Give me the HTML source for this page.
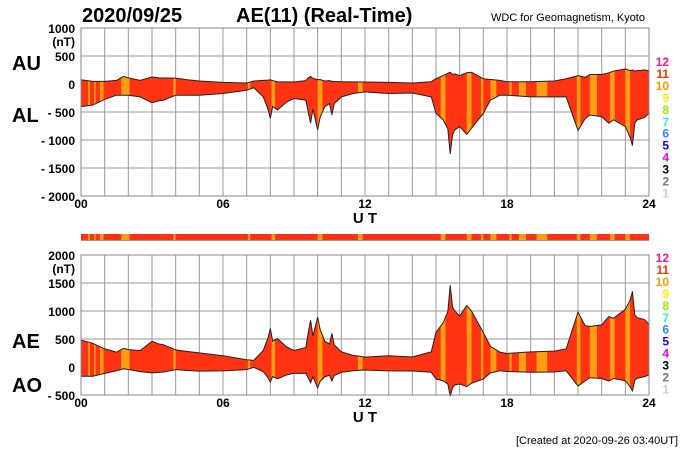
<!DOCTYPE html>
<html><head><meta charset="utf-8"><style>
body{margin:0;background:#fff;}
svg{display:block;font-family:"Liberation Sans",Arial,sans-serif;}
</style></head><body>
<svg id="c" width="700" height="450" viewBox="0 0 700 450">
<rect width="700" height="450" fill="#fff"/>
<text x="82" y="22" font-size="20" font-weight="bold">2020/09/25</text>
<text x="236" y="22" font-size="20" font-weight="bold">AE(11) (Real-Time)</text>
<text x="645" y="21" font-size="11" text-anchor="end">WDC for Geomagnetism, Kyoto</text>
<text x="12" y="70" font-size="20" font-weight="bold">AU</text>
<text x="12" y="122" font-size="20" font-weight="bold">AL</text>
<text x="12" y="348" font-size="20" font-weight="bold">AE</text>
<text x="12" y="392" font-size="20" font-weight="bold">AO</text>
<text x="678" y="444" font-size="11" text-anchor="end">[Created at 2020-09-26 03:40UT]</text>
<g id="top"></g><g id="bar"></g><g id="bot"></g>
</svg>
<script>
const hours=[0,0.5,1,1.5,1.8,2,2.5,3,3.3,3.5,4,4.5,5,6,7,7.3,7.7,7.9,8,8.1,8.3,8.7,9,9.5,9.6,9.7,9.8,10,10.1,10.3,10.5,10.6,10.7,11,11.5,12,13,14,14.8,15,15.3,15.5,15.6,15.7,15.8,16,16.3,16.5,17,17.3,17.7,18,19,20,20.5,21,21.3,21.5,22,22.3,22.5,23,23.2,23.3,23.4,23.5,23.8,24];
const au=[76,47,47,65,135,110,65,124,110,108,105,76,53,30,18,53,65,70,76,60,41,38,35,60,110,135,100,76,80,53,60,50,45,41,38,35,30,18,41,94,150,190,210,170,180,150,200,210,94,80,65,41,41,53,94,150,120,170,170,200,230,270,240,250,230,240,250,240];
const al=[-405,-376,-276,-200,-200,-200,-230,-335,-300,-288,-200,-200,-200,-170,-112,-65,-230,-450,-612,-400,-465,-318,-260,-288,-500,-700,-450,-818,-600,-405,-350,-550,-350,-230,-170,-141,-170,-160,-230,-523,-640,-800,-1250,-900,-818,-760,-900,-790,-523,-288,-200,-200,-230,-230,-230,-830,-620,-553,-582,-700,-640,-760,-950,-1100,-700,-640,-600,-523];
const bandStart=[0.3,0.55,0.8,1.7,3.9,7.05,8.05,10.0,11.7,15.2,16.3,16.9,17.3,18.1,18.5,19.25,20.95,21.5,22.35,23.0];
const bandEnd=[0.38,0.62,0.95,2.05,4.0,7.15,8.2,10.2,11.9,15.4,16.5,17.0,17.55,18.2,18.8,19.7,21.1,21.8,22.55,23.2];
const topTicks=[1000,500,0,-500,-1000,-1500,-2000];
const topTickLabels=["1000","500","0","- 500","- 1000","- 1500","- 2000"];
const botTicks=[2000,1500,1000,500,0,-500];
const botTickLabels=["2000","1500","1000","500","0","- 500"];
const xTicks=[0,6,12,18,24];
const xTickLabels=["00","06","12","18","24"];
const legendNums=["12","11","10","9","8","7","6","5","4","3","2","1"];
const legendCols=["#ff1493","#ff3300","#ff9900","#ffee00","#99ee00","#33eecc","#3388ff","#2200ee","#ee00ee","#000","#777","#ccc"];
const ae=hours.map((h,i)=>au[i]-al[i]);
const ao=hours.map((h,i)=>(au[i]+al[i])/2);
const NS="http://www.w3.org/2000/svg";
const X0=81,X1=649;
const x=h=>X0+(X1-X0)*h/24;
function mk(t,a,p){const e=document.createElementNS(NS,t);for(const k in a)e.setAttribute(k,a[k]);p.appendChild(e);return e;}
function panel(g,id,y0,vmax,vmin,ticks,labels,up,lo,lbOffset){
  const yT=y0,yB=y0+(vmax-vmin)/500*28;
  const y=v=>yT+(vmax-v)/(vmax-vmin)*(yB-yT);
  for(let h=0;h<=24;h++){const l=mk('line',{x1:x(h),x2:x(h),y1:yT,y2:yB,stroke:'#999','stroke-width':1},g);
    }
  ticks.forEach((v,i)=>{const l=mk('line',{x1:X0,x2:X1,y1:y(v),y2:y(v),stroke:'#999','stroke-width':1},g);
    
    const t=mk('text',{x:75,y:y(v)+5,'font-size':12,'font-weight':'bold','text-anchor':'end'},g);t.textContent=labels[i];
    
    if(i==0){const u=mk('text',{x:75,y:y(v)+18,'font-size':12,'font-weight':'bold','text-anchor':'end'},g);u.textContent='(nT)';
      }
  });
  let pts=hours.map((h,i)=>x(h)+','+y(up[i]));
  let pts2=hours.slice().reverse().map((h,j)=>{const i=hours.length-1-j;return x(h)+','+y(lo[i]);});
  const poly=pts.concat(pts2).join(' ');
  const cp=mk('clipPath',{id:'cp'+id},g);mk('polygon',{points:poly},cp);
  const area=mk('polygon',{points:poly,fill:'#ff3311'},g);
  
  const bg=mk('g',{'clip-path':'url(#cp'+id+')'},g);
  bandStart.forEach((s,i)=>{const r=mk('rect',{x:x(s),y:yT,width:x(bandEnd[i])-x(s),height:yB-yT,fill:'#ff9c11'},bg);
    });
  const l1=mk('polyline',{points:pts.join(' '),fill:'none',stroke:'#222','stroke-width':1},g);
  
  const l2=mk('polyline',{points:hours.map((h,i)=>x(h)+','+y(lo[i])).join(' '),fill:'none',stroke:'#222','stroke-width':1},g);
  
  const fr=mk('rect',{x:X0,y:yT,width:X1-X0,height:yB-yT,fill:'none',stroke:'#888','stroke-width':1},g);
  
  xTicks.forEach((h,i)=>{const t=mk('text',{x:x(h),y:yB+12,'font-size':12,'font-weight':'bold','text-anchor':'middle'},g);t.textContent=xTickLabels[i];
    });
  const ut=mk('text',{x:365,y:yB+27,'font-size':15,'font-weight':'bold','text-anchor':'middle'},g);ut.textContent='U T';
  
  legendNums.forEach((n,i)=>{const t=mk('text',{x:669,y:yT+lbOffset+i*11.95,'font-size':12,'font-weight':'bold','text-anchor':'end',fill:legendCols[i]},g);t.textContent=n;
    });
}
panel(document.getElementById('top'),'t',28,1000,-2000,topTicks,topTickLabels,au,al,38);
panel(document.getElementById('bot'),'b',255,2000,-500,botTicks,botTickLabels,ae,ao,7);
const bar=document.getElementById('bar');
const br=mk('rect',{x:X0,y:234,width:X1-X0,height:6,fill:'#ff3311'},bar);

bandStart.forEach((s,i)=>{const r=mk('rect',{x:x(s),y:234,width:x(bandEnd[i])-x(s),height:6,fill:'#ff9c11'},bar);
  });
const bl=mk('line',{x1:X0,x2:X1,y1:240.5,y2:240.5,stroke:'#999'},bar);

</script>
</body></html>
